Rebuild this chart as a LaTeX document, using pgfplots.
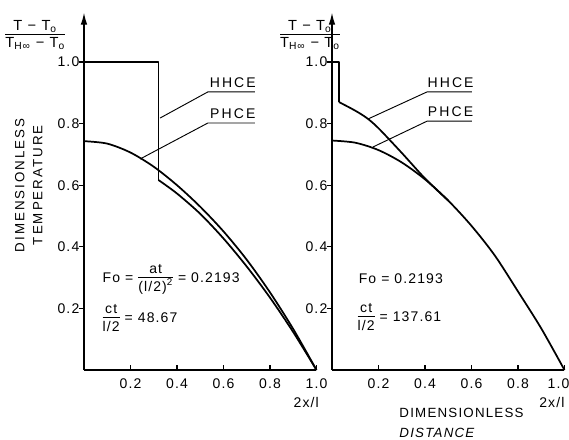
\documentclass[border=0pt]{standalone}
\usepackage{fontspec}
\setmainfont{Liberation Sans}[LetterSpace=8]
\newfontfamily\lbl{Liberation Sans}[LetterSpace=15]
\newfontfamily\lbls{Liberation Sans}[LetterSpace=9]
\usepackage{pgfplots}
\pgfplotsset{compat=1.18}
\usetikzlibrary{arrows.meta}
\newcommand{\fr}[2]{\begin{tabular}{@{}c@{}}#1\\[-1pt]\hline\rule{0pt}{10pt}#2\end{tabular}}
\pgfplotsset{myax/.style={
  x=174.375pt, y=231pt, xmin=0, xmax=1, ymin=0, ymax=1.16,
  axis x line*=bottom, axis y line*=left,
  axis line style={line width=1pt},
  y axis line style={-{Latex[length=9pt,width=5pt]}},
  xtick={0.2,0.4,0.6,0.8,1.0}, ytick={0.2,0.4,0.6,0.8,1.0},
  yticklabels={0.2,0.4,0.6,0.8,1.0},
  tick align=inside, major tick length=4pt,
  y tick style={xshift=-4pt},
  tick style={line width=0.8pt, black},
  ticklabel style={font=\fontsize{10.5}{12}\selectfont},
  xticklabel style={yshift=-3pt},
  clip=false, anchor=south west,
}}
\begin{document}
\begin{tikzpicture}
\useasboundingbox (0,0) rectangle (426.75pt,-330pt);
% ---------------- left
\begin{axis}[myax, at={(63pt,-277.5pt)}, xticklabels={0.2,0.4,0.6,0.8,1.0}]
\addplot[black, line width=1.3pt, line join=round] coordinates {(0,1.0) (0.32,1.0) (0.32,0.617)};
\addplot[black, line width=1.3pt, smooth] coordinates {(0.32,0.617) (0.4,0.573) (0.5,0.507) (0.6,0.427) (0.7,0.336) (0.8,0.235) (0.9,0.123) (1.0,0)};
\addplot[black, line width=1.3pt, smooth] coordinates {(0,0.743) (0.1,0.735) (0.2,0.706) (0.3,0.660) (0.4,0.600) (0.5,0.530) (0.6,0.450) (0.7,0.358) (0.8,0.252) (0.9,0.133) (1.0,0)};
\draw[line width=0.7pt] (axis cs:0.327,0.818) -- (axis cs:0.533,0.903) -- (axis cs:0.735,0.903);
\draw[line width=0.7pt] (axis cs:0.241,0.685) -- (axis cs:0.533,0.802) -- (axis cs:0.735,0.802);
\node[anchor=base, font=\lbl\fontsize{10.5}{12}\selectfont] at (axis cs:0.64,0.917) {HHCE};
\node[anchor=base, font=\lbl\fontsize{10.5}{12}\selectfont] at (axis cs:0.64,0.816) {PHCE};
\node[font=\fontsize{11}{12}\selectfont] at (axis cs:-0.21,1.085) {\fr{T − T\textsubscript{o}}{T\textsubscript{H∞} − T\textsubscript{o}}};
\node[rotate=90, align=center, font=\lbl\fontsize{10}{13.5}\selectfont] at (axis cs:-0.237,0.60) {DIMENSIONLESS\\TEMPERATURE};
\node[anchor=west, font=\fontsize{10.5}{12}\selectfont] at (axis cs:0.06,0.295) {Fo = \fr{at}{(l/2)\textsuperscript{2}} = 0.2193};
\node[anchor=west, font=\fontsize{10.5}{12}\selectfont] at (axis cs:0.06,0.165) {\fr{ct}{l/2} = 48.67};
\node[anchor=east, font=\fontsize{10.5}{12}\selectfont] at (axis cs:1.03,-0.104) {2x/l};
\end{axis}
% ---------------- right
\begin{axis}[myax, at={(249pt,-277.5pt)}, xticklabels={0.2,0.4,0.6,0.8,1.0\hspace*{9pt}}]
\addplot[black, line width=1.3pt, line join=round] coordinates {(0,1.0) (0.03,1.0) (0.03,0.87)};
\addplot[black, line width=1.3pt, smooth] coordinates {(0.03,0.87) (0.1,0.842) (0.15,0.818) (0.2,0.785) (0.3,0.705) (0.4,0.622) (0.5,0.550)};
\addplot[black, line width=1.3pt, smooth] coordinates {(0,0.745) (0.1,0.738) (0.2,0.714) (0.3,0.674) (0.4,0.619) (0.5,0.550) (0.6,0.468) (0.7,0.372) (0.8,0.255) (0.9,0.135) (1.0,0)};
\draw[line width=0.7pt] (axis cs:0.155,0.815) -- (axis cs:0.409,0.903) -- (axis cs:0.602,0.903);
\draw[line width=0.7pt] (axis cs:0.176,0.724) -- (axis cs:0.409,0.808) -- (axis cs:0.602,0.808);
\node[anchor=base, font=\lbl\fontsize{10.5}{12}\selectfont] at (axis cs:0.51,0.917) {HHCE};
\node[anchor=base, font=\lbl\fontsize{10.5}{12}\selectfont] at (axis cs:0.51,0.822) {PHCE};
\node[font=\fontsize{11}{12}\selectfont] at (axis cs:-0.095,1.085) {\fr{T − T\textsubscript{o}}{T\textsubscript{H∞} − T\textsubscript{o}}};
\node[anchor=west, font=\fontsize{10.5}{12}\selectfont] at (axis cs:0.095,0.295) {Fo = 0.2193};
\node[anchor=west, font=\fontsize{10.5}{12}\selectfont] at (axis cs:0.09,0.168) {\fr{ct}{l/2} = 137.61};
\node[anchor=east, font=\fontsize{10.5}{12}\selectfont] at (axis cs:1.02,-0.104) {2x/l};
\node[anchor=west, font=\lbls\fontsize{10}{12}\selectfont] at (axis cs:0.27,-0.14) {DIMENSIONLESS};
\node[anchor=west, font=\lbls\itshape\fontsize{10}{12}\selectfont] at (axis cs:0.27,-0.205) {DISTANCE};
\end{axis}
\end{tikzpicture}
\end{document}
